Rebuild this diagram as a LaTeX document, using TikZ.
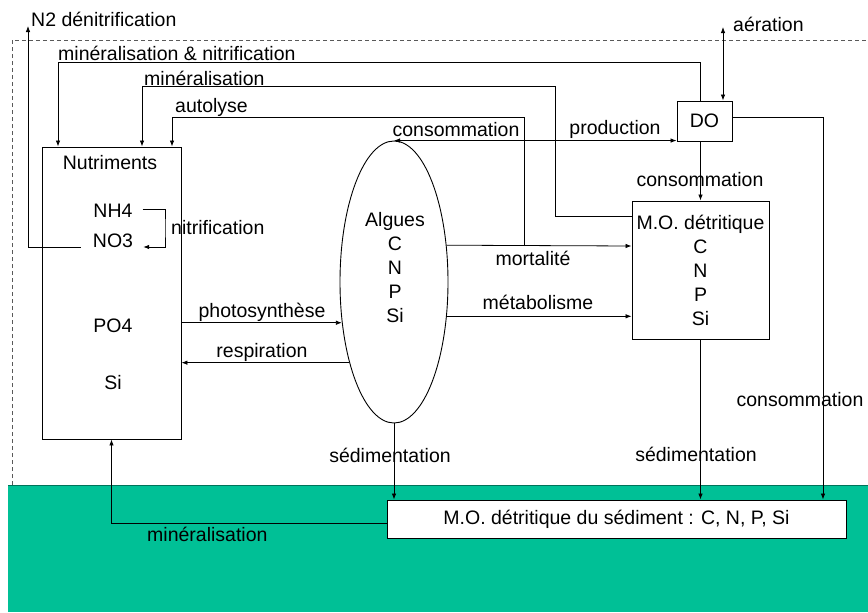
\documentclass[tikz,border=0pt]{standalone}
\usepackage{fontspec}
\setmainfont{Liberation Sans}
\usetikzlibrary{shapes.geometric, positioning, arrows.meta}
\definecolor{vertfond}{RGB}{0,192,150}

\begin{document}
\begin{tikzpicture}[x=1pt, y=-1pt, font=\fontsize{19.5}{24}\selectfont,
    >={Latex[length=6pt,width=4.5pt]},
    boite/.style={draw, line width=0.9pt, inner sep=0pt},
    fleche/.style={->, line width=0.8pt},
    lab/.style={inner sep=0pt}]
    \useasboundingbox (0,0) rectangle (868,613);
    % fond : sédiment et colonne d'eau
    \fill[vertfond] (8,485) rectangle (868,612);
    \draw[vertfond!60!black, line width=0.6pt] (8,485) -- (868,485);
    \draw[gray!70!black, dash pattern=on 4pt off 3pt] (12,485) -- (12,40) -- (868,40);

    % compartiments
    \node[boite, minimum width=139pt, minimum height=292pt] (nutr) at (111.5,293) {};
    \node[lab] (tnutr) at (110,163) {Nutriments};
    \node[lab] (nh4) at (113,211) {NH4};
    \node[lab] (no3) at (113,241) {NO3};
    \node[lab] (po4) at (113,326) {PO4};
    \node[lab] (si) at (113,383) {Si};
    \node[draw, ellipse, line width=0.9pt, minimum width=108pt, minimum height=282pt, inner sep=0pt] (alg) at (394,282) {};
    \node[lab, align=center] (talg) at (395,268) {Algues\\C\\N\\P\\Si};
    \node[boite, align=center, minimum width=137pt, minimum height=138pt] (mod) at (700.5,270) {M.O. détritique\\C\\N\\P\\Si};
    \node[boite, minimum width=55pt, minimum height=40pt] (do) at (704.5,121) {DO};
    \node[boite, fill=white, minimum width=459pt, minimum height=38pt] (sed) at (616.5,519) {M.O. détritique du sédiment : C, N, P, Si};

    % points de passage
    \coordinate (n2) at (28,26);
    \coordinate (nitr) at (165,228);
    \coordinate (mn) at (58,62);
    \coordinate (mi) at (142,86);
    \coordinate (mi2) at (555,86);
    \coordinate (au) at (524,117);
    \coordinate (au2) at (172,117);
    \coordinate (mo) at ([yshift=24pt]mod.west);
    \coordinate (aer) at (723,27);
    \coordinate (dcx) at (823,0);

    % dénitrification et nitrification
    \draw[fleche] ([xshift=-12pt,yshift=-6pt]no3.west) -| (n2);
    \node[lab, anchor=west] at (31,19) {N2 dénitrification};
    \draw[fleche] ([xshift=10pt,yshift=2pt]nh4.east) -| (nitr) |- ([xshift=10pt,yshift=-6pt]no3.east);
    \node[lab, anchor=west] at (171,228) {nitrification};

    % retours vers les nutriments
    \draw[fleche] (mod.north |- do.north) |- (mn) -- (mn |- nutr.north);
    \node[lab, anchor=west] at (58,53) {minéralisation \& nitrification};
    \draw[fleche] ([yshift=54pt]mod.west) -| (mi2) -- (mi) -- (mi |- nutr.north);
    \node[lab, anchor=west] at (144,78) {minéralisation};
    \draw[fleche] (au |- mo) -- (au) -- (au2) -- (au2 |- nutr.north);
    \node[lab, anchor=west] at (175,107) {autolyse};

    % échanges nutriments - algues
    \draw[fleche] (nutr.east |- alg.218) -- (alg.218);
    \node[lab] at (262,312) {photosynthèse};
    \draw[fleche] (alg.241) -- (alg.241 -| nutr.east);
    \node[lab] at (262,352) {respiration};

    % algues vers la matière organique
    \draw[fleche] (alg.35) -- (mo);
    \node[lab] at (533,258) {mortalité};
    \draw[fleche] (alg.-33) -- (alg.-33 -| mod.west);
    \node[lab] at (538,302) {métabolisme};

    % oxygène dissous
    \draw[<->, line width=0.8pt] (alg.north) -- (alg.north -| do.west);
    \node[lab] at (456,130) {consommation};
    \node[lab] at (615,129) {production};
    \draw[<->, line width=0.8pt] (aer) -- (aer |- do.north);
    \node[lab, anchor=west] at (733,24) {aération};
    \draw[fleche] (do.south -| mod.north) -- (mod.north);
    \node[lab] at (700,180) {consommation};
    \draw[fleche] ([yshift=4pt]do.east) -| (dcx |- sed.north);
    \node[lab] at (800,400) {consommation};

    % sédimentation
    \draw[fleche] (alg.south) -- (alg.south |- sed.north);
    \node[lab] at (390,455) {sédimentation};
    \draw[fleche] (mod.south) -- (mod.south |- sed.north);
    \node[lab] at (696,454) {sédimentation};
    \draw[fleche] ([yshift=-4pt]sed.west) -| (nutr.south);
    \node[lab, anchor=west] at (147,534) {minéralisation};
\end{tikzpicture}
\end{document}
